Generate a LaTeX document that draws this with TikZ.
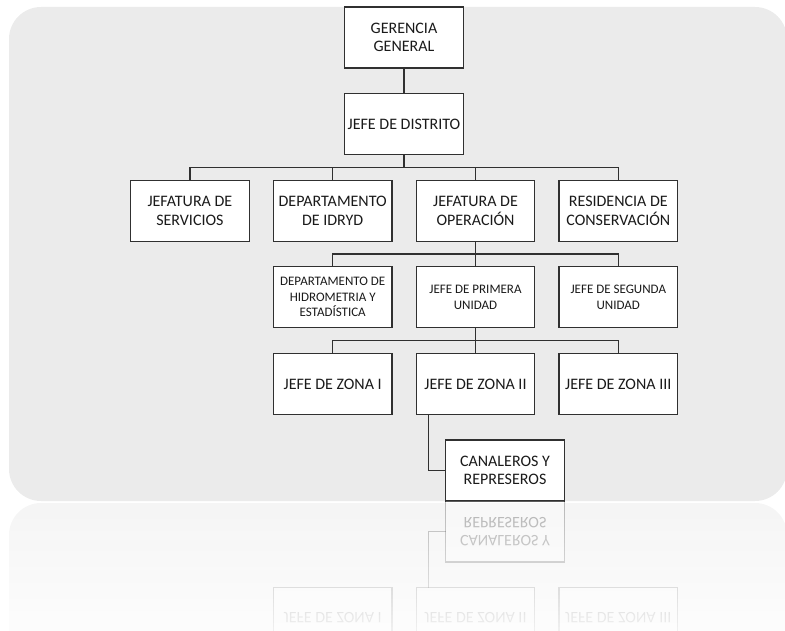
\documentclass[tikz,border=0pt]{standalone}
\usepackage{fontspec}
\setmainfont{Carlito}
\usetikzlibrary{positioning, calc}
\definecolor{panelgray}{HTML}{EBEBEB}
\definecolor{linegray}{HTML}{303030}
\definecolor{boxtext}{HTML}{1A1A1A}

\begin{document}
\begin{tikzpicture}[
    x=1pt, y=-1pt,
    node distance=25.6pt and 24.3pt,
    box/.style={
        rectangle, draw=linegray, fill=white, line width=1.2pt,
        minimum width=118.5pt, minimum height=61pt, inner sep=2pt, outer sep=0pt,
        align=center, text=boxtext,
        font=\fontsize{16}{18.5}\selectfont
    },
    smallbox/.style={box, font=\fontsize{13}{15.5}\selectfont},
    link/.style={draw=linegray, line width=1.2pt},
    refl/.style={box, yscale=-1, transform shape, opacity=.3, text opacity=.3}
]
\useasboundingbox (0,0) rectangle (785,631);

% background panel
\fill[panelgray, rounded corners=32pt] (9,7) rectangle (787,501);
\coordinate (floor) at (0,501);

\node[box] (gg) at (404,37.5) {GERENCIA\\GENERAL};
\node[box, below=of gg] (dist) {JEFE DE DISTRITO};

\node[box, below=of dist, xshift=71.5pt] (ope) {JEFATURA DE\\OPERACIÓN};
\node[box, left=of ope] (idr) {DEPARTAMENTO\\DE IDRYD};
\node[box, left=of idr] (serv) {JEFATURA DE\\SERVICIOS};
\node[box, right=of ope] (cons) {RESIDENCIA DE\\CONSERVACIÓN};

\node[smallbox, below=of ope] (pri) {JEFE DE PRIMERA\\UNIDAD};
\node[smallbox, left=of pri] (hid) {DEPARTAMENTO DE\\HIDROMETRIA Y\\ESTADÍSTICA};
\node[smallbox, right=of pri] (seg) {JEFE DE SEGUNDA\\UNIDAD};

\node[box, below=of pri] (z2) {JEFE DE ZONA II};
\node[box, left=of z2] (z1) {JEFE DE ZONA I};
\node[box, right=of z2] (z3) {JEFE DE ZONA III};

\node[box, below=of z2, xshift=29.5pt] (can) {CANALEROS Y\\REPRESEROS};

% connectors
\draw[link] (gg) -- (dist);

\coordinate (bus1) at ($(dist.south)!.5!(dist.south |- ope.north)$);
\draw[link] (dist.south) -- (bus1);
\foreach \n in {serv,idr,ope,cons}
    \draw[link] (bus1) -| (\n.north);

\coordinate (bus2) at ($(ope.south)!.5!(pri.north)$);
\draw[link] (ope.south) -- (bus2);
\foreach \n in {hid,pri,seg}
    \draw[link] (bus2) -| (\n.north);

\coordinate (bus3) at ($(pri.south)!.5!(z2.north)$);
\draw[link] (pri.south) -- (bus3);
\foreach \n in {z1,z2,z3}
    \draw[link] (bus3) -| (\n.north);

\draw[link] ([xshift=12pt]z2.south west) |- (can.west);

% reflection
\fill[panelgray, opacity=.5, rounded corners=32pt] (9,503) rectangle (787,700);
\node[refl] (rcan) at ($(can)!2!(can |- floor)$) {CANALEROS Y\\REPRESEROS};
\node[refl] (rz1) at ($(z1)!2!(z1 |- floor)$) {JEFE DE ZONA I};
\node[refl] (rz2) at ($(z2)!2!(z2 |- floor)$) {JEFE DE ZONA II};
\node[refl] (rz3) at ($(z3)!2!(z3 |- floor)$) {JEFE DE ZONA III};
\draw[link, opacity=.3] (rcan.west) -| ([xshift=12pt]rz2.south west);

\foreach \i [evaluate=\i as \op using \i/40] in {0,...,31}
    \fill[white, opacity=\op] (0,503+4*\i) rectangle (785,507+4*\i);

\end{tikzpicture}
\end{document}
